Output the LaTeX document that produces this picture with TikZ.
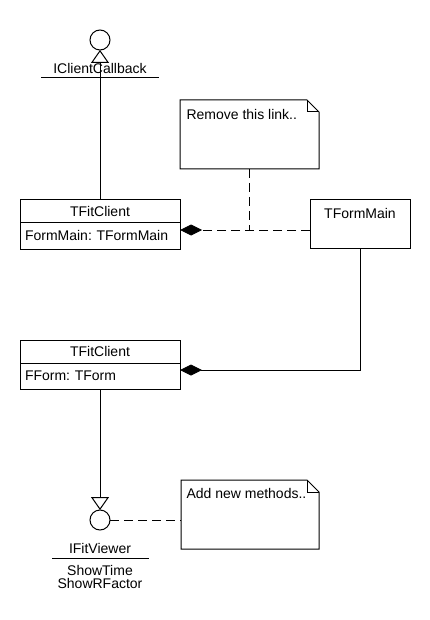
\documentclass[tikz,border=0pt]{standalone}
\usepackage{fontspec}
\setmainfont{Liberation Sans}
\usetikzlibrary{arrows.meta, positioning}
\frenchspacing

\begin{document}
\begin{tikzpicture}[x=1pt, y=-1pt, line width=1pt, font=\fontsize{14}{16}\selectfont,
    classhead/.style={draw, minimum width=160pt, inner sep=0pt, outer sep=0pt},
    classattr/.style={draw, text width=150pt, align=left, inner xsep=5pt, inner ysep=0pt, outer sep=0pt},
    notebox/.style={minimum width=139pt, minimum height=69pt, inner sep=0pt, outer sep=0pt},
    lollipop/.style={draw, circle, minimum size=20pt, inner sep=0pt, outer sep=0pt},
    realize/.style={-{Triangle[open, length=13pt, width=18pt]}},
    compose/.style={-{Diamond[length=22pt, width=11pt]}},
    notelink/.style={dash pattern=on 9pt off 5pt}]

    \useasboundingbox (0,0) rectangle (430,620);

    % Interfaces
    \node[lollipop] (cb) at (100,40) {};
    \node[lollipop] (fv) at (100,520) {};

    % Classes
    \node[classhead, minimum height=22pt] (fit1) at (100,211) {TFitClient};
    \node[classattr, minimum height=27pt, below=0pt of fit1] (fit1a) {FormMain: TFormMain};
    \node[classhead, minimum height=23pt] (fit2) at (100,351.5) {TFitClient};
    \node[classattr, minimum height=26pt, below=0pt of fit2] (fit2a) {FForm: TForm};
    \node[draw, minimum width=100pt, minimum height=48pt, outer sep=0pt] (main) at (360,224) {};
    \node[anchor=north, inner sep=0pt] (mainname) at ([yshift=-8pt]main.north) {TFormMain};

    % Notes
    \node[notebox] (note1) at (249.5,134.5) {};
    \node[notebox, minimum width=138pt] (note2) at (250,514.5) {};
    \foreach \n in {note1, note2} {
      \draw (\n.south west) -- (\n.south east) -- ([yshift=-12pt]\n.north east)
        -- ([xshift=-12pt]\n.north east) -- (\n.north west) -- cycle;
      \draw ([xshift=-12pt]\n.north east) |- ([yshift=-12pt]\n.north east);
    }
    \node[anchor=west, inner sep=0pt] (note1text) at ([xshift=6pt, yshift=-14pt]note1.north west) {Remove this link..};
    \node[anchor=west, inner sep=0pt] (note2text) at ([xshift=5pt, yshift=-13pt]note2.north west) {Add new methods..};

    % Realizations
    \draw[realize] (fit1.north) -- (cb.south);
    \draw[realize] (fit2a.south) -- (fv.north);

    % Interface labels
    \node (cbname) at (100,68) {IClientCallback};
    \draw (41,78) -- (159,78);
    \node (fvname) at (100,548) {IFitViewer};
    \draw (52,558.5) -- (149,558.5);
    \node (fvop1) at (100,570) {ShowTime};
    \node (fvop2) at (100,583) {ShowRFactor};

    % Compositions
    \coordinate (c1) at ([yshift=-6pt]main.west);
    \draw[notelink, compose] (c1) -- (c1 -| fit1a.east);
    \draw[compose] (main.south) |- ([yshift=6pt]fit2a.east);

    % Note links
    \draw[notelink] (note1.south) -- (note1.south |- c1);
    \draw[notelink] (fv.east) -- (fv.east -| note2.west);

\end{tikzpicture}
\end{document}
